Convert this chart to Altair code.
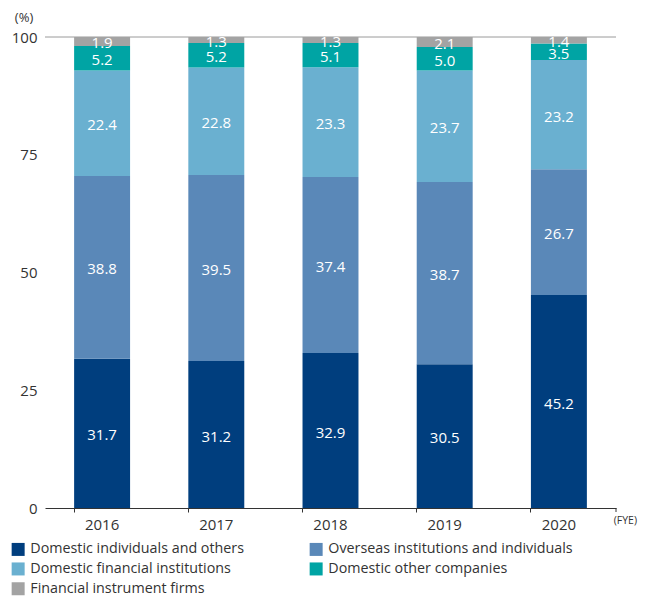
import altair as alt
import pandas as pd

years = ["2016", "2017", "2018", "2019", "2020"]
categories = [
    "Domestic individuals and others",
    "Overseas institutions and individuals",
    "Domestic financial institutions",
    "Domestic other companies",
    "Financial instrument firms",
]
colors = ["#003E7E", "#5A88B8", "#6AB0D0", "#00A4A4", "#A3A3A3"]
# legend is filled column by column: this order gives the reference's row layout
legend_order = [0, 2, 4, 1, 3]

domestic_individuals = [31.7, 31.2, 32.9, 30.5, 45.2]
overseas = [38.8, 39.5, 37.4, 38.7, 26.7]
domestic_financial = [22.4, 22.8, 23.3, 23.7, 23.2]
domestic_other = [5.2, 5.2, 5.1, 5.0, 3.5]
financial_instrument = [1.9, 1.3, 1.3, 2.1, 1.4]

series = [domestic_individuals, overseas, domestic_financial, domestic_other, financial_instrument]
rows = []
for ci, (cat, vals) in enumerate(zip(categories, series)):
    for y, v in zip(years, vals):
        rows.append({"year": y, "category": cat, "idx": ci, "value": v})
df = pd.DataFrame(rows)

FONT = "Open Sans"
W, H = 571, 471

x_enc = alt.X(
    "year:N",
    title=None,
    scale=alt.Scale(paddingInner=0.51, paddingOuter=0.255),
    axis=alt.Axis(
        bandPosition=0,
        labelAngle=0,
        labelFontSize=15,
        labelColor="#333333",
        labelFont=FONT,
        labelPadding=5,
        domainColor="#333333",
        tickColor="#333333",
        tickSize=4,
        grid=False,
    ),
)

base = alt.Chart(df).transform_stack(
    stack="value", groupby=["year"], as_=["y0", "y1"],
    sort=[alt.SortField("idx", order="ascending")],
).transform_calculate(mid="(datum.y0 + datum.y1) / 2")

bars = base.mark_bar().encode(
    x=x_enc,
    y=alt.Y(
        "y0:Q",
        title=None,
        scale=alt.Scale(domain=[0, 100], nice=False),
        axis=alt.Axis(
            values=[0, 25, 50, 75, 100],
            domain=False,
            ticks=False,
            grid=False,
            labelFontSize=15,
            labelColor="#333333",
            labelFont=FONT,
            labelPadding=8,
        ),
    ),
    y2="y1:Q",
    color=alt.Color(
        "category:N",
        scale=alt.Scale(
            domain=[categories[i] for i in legend_order],
            range=[colors[i] for i in legend_order],
        ),
        legend=alt.Legend(
            title=None,
            orient="none",
            legendX=-34,
            legendY=505,
            columns=2,
            columnPadding=64,
            rowPadding=4.8,
            symbolType="square",
            symbolSize=169,
            symbolStrokeWidth=0,
            labelFontSize=14.3,
            labelFont=FONT,
            labelColor="#333333",
            labelOffset=5,
            labelLimit=400,
        ),
    ),
)

labels = base.mark_text(color="white", fontSize=15, font=FONT, baseline="middle", dy=2).encode(
    x=alt.X("year:N"),
    y=alt.Y("mid:Q"),
    text=alt.Text("value:Q", format=".1f"),
)

top_rule = alt.Chart(pd.DataFrame({"v": [100]})).mark_rule(color="#9a9a9a", strokeWidth=1).encode(
    y=alt.Y("v:Q"), x=alt.value(0), x2=alt.value(W)
)

end_tick = alt.Chart(pd.DataFrame({"v": [0]})).mark_rule(color="#333333", strokeWidth=1).encode(
    x=alt.value(W), y=alt.value(H), y2=alt.value(H + 4)
)

pct = alt.Chart(pd.DataFrame({"t": ["(%)"]})).mark_text(
    fontSize=13, font=FONT, color="#333333"
).encode(text="t:N", x=alt.value(-21), y=alt.value(-19))

fye = alt.Chart(pd.DataFrame({"t": ["(FYE)"]})).mark_text(
    fontSize=10.5, font=FONT, color="#333333", align="right"
).encode(text="t:N", x=alt.value(W + 21), y=alt.value(484))

chart = alt.layer(top_rule, bars, labels, end_tick, pct, fye).properties(
    width=W,
    height=H,
    autosize=alt.AutoSizeParams(type="none"),
    padding={"left": 37, "top": 29, "right": 22, "bottom": 88},
).configure_view(stroke=None)

chart.save("out.html", embed_options={"renderer": "svg", "actions": False})
